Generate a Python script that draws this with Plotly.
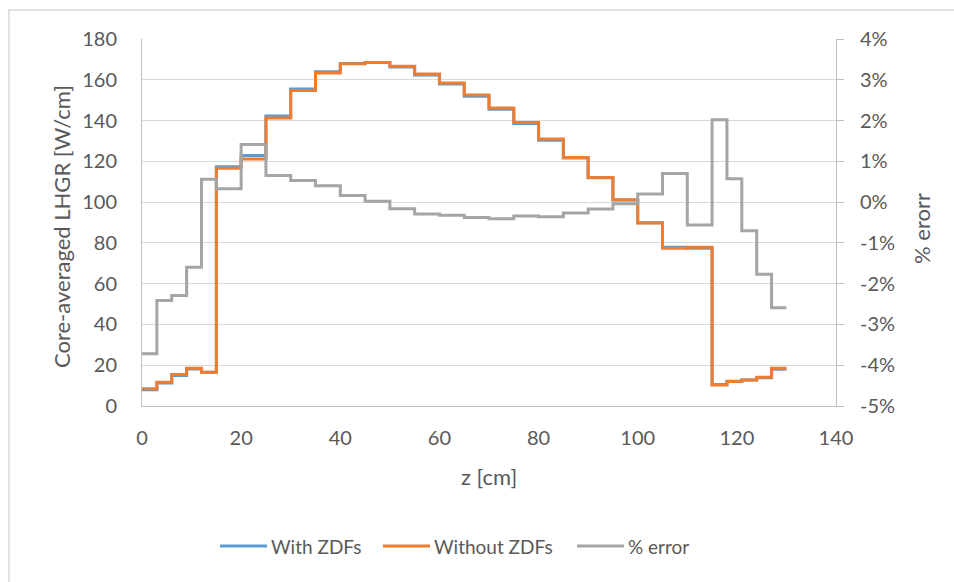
import plotly.graph_objects as go

# Step boundaries (start of each axial node) and end of the last node [cm]
z_starts = [0, 3, 6, 9, 12, 15, 20, 25, 30, 35, 40, 45, 50, 55, 60, 65, 70, 75, 80,
            85, 90, 95, 100, 105, 110, 115, 118, 121, 124, 127]
z_end = 130

with_zdfs = [8.0, 11.3, 15.0, 18.2, 16.6, 117.4, 122.8, 142.2, 155.5, 163.9, 168.0,
             168.5, 166.3, 162.3, 157.9, 151.9, 145.5, 138.6, 130.4, 121.6, 111.9,
             101.0, 89.9, 77.9, 77.4, 10.5, 12.1, 12.7, 13.9, 18.0]
without_zdfs = [8.4, 11.6, 15.4, 18.5, 16.5, 116.6, 121.1, 141.3, 154.7, 163.3, 167.8,
                168.5, 166.6, 162.8, 158.4, 152.5, 146.1, 139.1, 130.9, 121.9, 112.1,
                101.1, 89.7, 77.4, 77.8, 10.3, 12.0, 12.8, 14.1, 18.5]
pct_error = [-3.72, -2.41, -2.29, -1.60, 0.56, 0.33, 1.41, 0.65, 0.53, 0.40, 0.16,
             0.02, -0.16, -0.29, -0.32, -0.38, -0.41, -0.34, -0.36, -0.27, -0.17,
             -0.04, 0.20, 0.70, -0.56, 2.02, 0.57, -0.70, -1.77, -2.59]

x_ticks = [0, 20, 40, 60, 80, 100, 120, 140]
y_ticks = [0, 20, 40, 60, 80, 100, 120, 140, 160, 180]
y2_ticks = [-5, -4, -3, -2, -1, 0, 1, 2, 3, 4]
y2_labels = ["-5%", "-4%", "-3%", "-2%", "-1%", "0%", "1%", "2%", "3%", "4%"]

series_names = ["With ZDFs", "Without ZDFs", "% error"]
series_colors = ["#5B9BD5", "#ED7D31", "#A5A5A5"]

xs = z_starts + [z_end]

def ext(v):
    return list(v) + [v[-1]]

FONT = "Lato"
TXT = "#595959"

L, R, T, B = 142, 954 - 836, 39, 582 - 406
W, H = 954 - L - R, 582 - T - B

def px(xp):
    return (xp - L) / W

def py(yp):
    return (582 - B - yp) / H

fig = go.Figure()
fig.add_trace(go.Scatter(x=xs, y=ext(with_zdfs), name=series_names[0], mode="lines",
                         line=dict(color=series_colors[0], width=3, shape="hv")))
fig.add_trace(go.Scatter(x=xs, y=ext(without_zdfs), name=series_names[1], mode="lines",
                         line=dict(color=series_colors[1], width=3, shape="hv")))
fig.add_trace(go.Scatter(x=xs, y=ext(pct_error), name=series_names[2], mode="lines",
                         yaxis="y2", line=dict(color=series_colors[2], width=3, shape="hv")))

# custom legend (line samples + labels) placed like the original
leg_y = 546
leg_x0 = [220, 383, 577]
leg_len = 47
shapes = [
    dict(type="rect", xref="paper", yref="paper", x0=px(9), y0=py(600),
         x1=px(970), y1=py(10), line=dict(color="#D9D9D9", width=1.5),
         fillcolor="rgba(0,0,0,0)", layer="below"),
]
annotations = [
    dict(text="Core-averaged LHGR [W/cm]", xref="paper", yref="paper",
         x=px(61), y=py(227), textangle=-90, showarrow=False,
         font=dict(size=22, color=TXT), xanchor="center", yanchor="middle"),
    dict(text="% erorr", xref="paper", yref="paper",
         x=px(921), y=py(229), textangle=-90, showarrow=False,
         font=dict(size=22, color=TXT), xanchor="center", yanchor="middle"),
    dict(text="z [cm]", xref="paper", yref="paper",
         x=px(489), y=py(476), showarrow=False,
         font=dict(size=22, color=TXT), xanchor="center", yanchor="middle"),
]
for name, col, x0 in zip(series_names, series_colors, leg_x0):
    shapes.append(dict(type="line", xref="paper", yref="paper",
                       x0=px(x0), x1=px(x0 + leg_len), y0=py(leg_y), y1=py(leg_y),
                       line=dict(color=col, width=3)))
    annotations.append(dict(text=name, xref="paper", yref="paper",
                            x=px(x0 + leg_len + 2), y=py(leg_y), showarrow=False,
                            xanchor="left", yanchor="middle",
                            font=dict(size=19, color=TXT)))

fig.update_layout(
    width=954, height=582,
    margin=dict(l=L, r=R, t=T, b=B, pad=0),
    paper_bgcolor="white", plot_bgcolor="white",
    font=dict(family=FONT, size=20, color=TXT),
    showlegend=False,
    xaxis=dict(range=[0, 140], tickvals=x_ticks, showgrid=False, zeroline=False,
               showline=True, linecolor="#BFBFBF", linewidth=1, ticks="",
               ticklabelstandoff=14, tickfont=dict(size=20, color=TXT)),
    yaxis=dict(range=[0, 180], tickvals=y_ticks, showgrid=True, gridcolor="#D9D9D9",
               gridwidth=1, zeroline=False, showline=True, linecolor="#BFBFBF",
               linewidth=1, ticks="", ticklabelstandoff=20,
               tickfont=dict(size=20, color=TXT)),
    yaxis2=dict(range=[-5, 4], tickvals=y2_ticks, ticktext=y2_labels, overlaying="y",
                side="right", showgrid=False, zeroline=False, showline=True,
                linecolor="#BFBFBF", linewidth=1, ticks="outside", ticklen=7,
                tickcolor="#BFBFBF", ticklabelstandoff=12,
                tickfont=dict(size=20, color=TXT)),
    annotations=annotations,
    shapes=shapes,
)

fig.write_html("out.html")
